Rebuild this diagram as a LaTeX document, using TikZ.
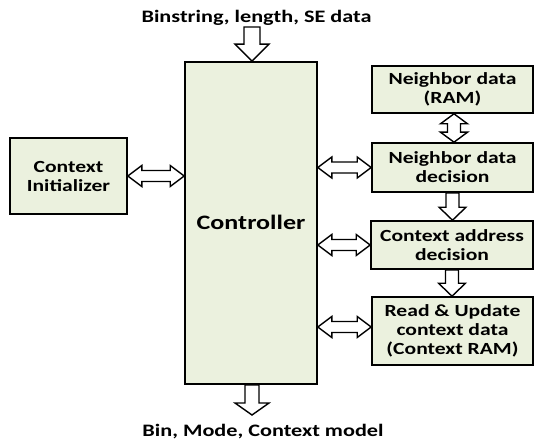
\documentclass[tikz,border=0pt]{standalone}
\usepackage{fontspec}
\setmainfont{Carlito}[FakeStretch=1.27]
\usetikzlibrary{calc}
\definecolor{boxfill}{RGB}{235,241,222}
\newcommand\myharrow[5]{\draw[fatarr] let \p1=#1, \p2=#2 in
  (\x1,\y1) -- (\x1+#3,\y1+#4) -- (\x1+#3,\y1+#5) -- (\x2-#3,\y1+#5) -- (\x2-#3,\y1+#4)
  -- (\x2,\y1) -- (\x2-#3,\y1-#4) -- (\x2-#3,\y1-#5) -- (\x1+#3,\y1-#5) -- (\x1+#3,\y1-#4) -- cycle;}
\newcommand\myvarrow[5]{\draw[fatarr] let \p1=#1, \p2=#2 in
  (\x1-#5,\y1) -- (\x1+#5,\y1) -- (\x1+#5,\y2+#3) -- (\x1+#4,\y2+#3) -- (\x1,\y2)
  -- (\x1-#4,\y2+#3) -- (\x1-#5,\y2+#3) -- cycle;}
\newcommand\myvvarrow[5]{\draw[fatarr] let \p1=#1, \p2=#2 in
  (\x1,\y1) -- (\x1+#4,\y1-#3) -- (\x1+#5,\y1-#3) -- (\x1+#5,\y2+#3) -- (\x1+#4,\y2+#3)
  -- (\x1,\y2) -- (\x1-#4,\y2+#3) -- (\x1-#5,\y2+#3) -- (\x1-#5,\y1-#3) -- (\x1-#4,\y1-#3) -- cycle;}
\begin{document}
\begin{tikzpicture}[x=1pt,y=-1pt,
  blk/.style={draw=black,line width=1.6pt,fill=boxfill,inner sep=0pt,align=center,
    font=\fontsize{17}{19}\selectfont\bfseries},
  fatarr/.style={draw=black,line width=1.4pt,fill=white,line join=miter},
  lbl/.style={font=\fontsize{17.5}{19}\selectfont\bfseries,anchor=base}]
\useasboundingbox (0,0) rectangle (535,441);
\node[blk,minimum width=132pt,minimum height=322pt] (ctrl) at (251,223) {};
\node[font=\fontsize{20.5}{22}\selectfont\bfseries,anchor=base] (ctrltxt) at (251,229) {Controller};
\node[blk,minimum width=117pt,minimum height=76pt] (ci) at (68.5,176) {Context\\Initializer};
\node[blk,minimum width=161pt,minimum height=47pt] (ram) at (452.5,89.5) {Neighbor data\\(RAM)};
\node[blk,minimum width=161pt,minimum height=49pt] (nd) at (452.5,167.5) {Neighbor data\\decision};
\node[blk,minimum width=162pt,minimum height=48pt] (cad) at (452,245) {Context address\\decision};
\node[blk,minimum width=161pt,minimum height=68pt] (rud) at (452.5,331) {Read \& Update\\context data\\(Context RAM)};
\node[lbl] (top) at (256.5,22.5) {Binstring, length, SE data};
\node[lbl] (bot) at (263,436) {Bin, Mode, Context model};
\coordinate (topin) at (252,27);
\coordinate (botout) at (252,415);
% arrows
\myvarrow{(topin)}{([xshift=1pt]ctrl.north)}{17pt}{17pt}{8pt}
\myvarrow{([xshift=1pt]ctrl.south)}{(botout)}{12pt}{17pt}{7pt}
\myharrow{(ci.east)}{(ctrl.west |- ci.east)}{14pt}{10.5pt}{5.5pt}
\myharrow{(ctrl.east |- nd.west)}{(nd.west)}{14pt}{10.5pt}{5.5pt}
\myharrow{(ctrl.east |- cad.west)}{(cad.west)}{14pt}{10.5pt}{5.5pt}
\myharrow{([yshift=4pt]ctrl.east |- rud.west)}{([yshift=4pt]rud.west)}{14pt}{10.5pt}{5.5pt}
\myvvarrow{([xshift=1.5pt]ram.south)}{([xshift=1.5pt]nd.north)}{10pt}{13.5pt}{6.5pt}
\myvarrow{(nd.south)}{(cad.north)}{13pt}{13.5pt}{6.5pt}
\myvarrow{(cad.south)}{(rud.north)}{13pt}{13.5pt}{6.5pt}
\end{tikzpicture}
\end{document}
